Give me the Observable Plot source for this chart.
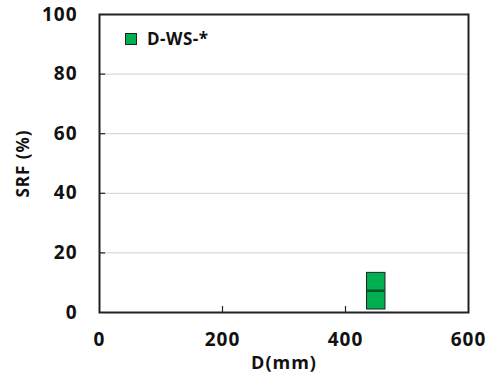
<!DOCTYPE html>
<html>
<head>
<meta charset="utf-8">
<script src="https://cdn.jsdelivr.net/npm/d3@7"></script>
<script src="https://cdn.jsdelivr.net/npm/@observablehq/plot@0.6"></script>
<style>
  html, body { margin: 0; padding: 0; background: #fff; }
  #wrap { position: relative; width: 491px; height: 374px; font-family: "Open Sans", sans-serif; }
  #legend { position: absolute; left: 125px; top: 27px; display: flex; align-items: center; font-weight: bold; font-size: 17px; color: #111; letter-spacing: 0.5px; }
  #legend .sw { width: 10px; height: 10px; background: #00B050; border: 1px solid #222; margin-right: 10px; }
</style>
</head>
<body>
<div id="wrap"><div id="legend"><span class="sw"></span><span id="legtext"></span></div></div>
<script>
// Data
const seriesName = "D-WS-*";
const diameters = [450];          // D (mm), box centre
const boxHalfWidth = [15];        // half width of box (mm)
const q1 = [1.0];
const median = [7.3];
const q3 = [13.3];
const xTicks = [0, 200, 400, 600];
const yTicks = [0, 20, 40, 60, 80, 100];

const data = diameters.map((d, i) => ({
  x1: d - boxHalfWidth[i], x2: d + boxHalfWidth[i], q1: q1[i], med: median[i], q3: q3[i]
}));

document.getElementById("legtext").textContent = seriesName;

const innerX = xTicks.filter(v => v > 0 && v < 600);
const innerY = yTicks.filter(v => v > 0 && v < 100);

const chart = Plot.plot({
  width: 491,
  height: 374,
  marginLeft: 99,
  marginTop: 14,
  marginRight: 23,
  marginBottom: 62,
  style: { fontFamily: "Open Sans, sans-serif", fontWeight: "bold", fontSize: "19px", color: "#111", background: "transparent", letterSpacing: "1px" },
  x: { domain: [0, 600], ticks: xTicks },
  y: { domain: [0, 100], ticks: yTicks },
  marks: [
    Plot.gridY(innerY, { stroke: "#d0d0d0", strokeOpacity: 1, strokeWidth: 1 }),
    Plot.axisX({ ticks: xTicks, tickSize: 0, tickPadding: 20, label: null, fontSize: 19, fontWeight: "bold" }),
    Plot.axisY({ ticks: yTicks, tickSize: 0, tickPadding: 22, label: null, fontSize: 19, fontWeight: "bold" }),
    Plot.ruleX(innerX, { x: d => d, y1: 0, y2: 2, stroke: "#222", strokeWidth: 1.2 }),
    Plot.ruleY(innerY, { y: d => d, x1: 0, x2: 10, stroke: "#222", strokeWidth: 1.2 }),
    Plot.frame({ stroke: "#222", strokeWidth: 2 }),
    Plot.rect(data, { x1: "x1", x2: "x2", y1: "q1", y2: "q3", fill: "#00B050", stroke: "#222", strokeWidth: 1 }),
    Plot.ruleY(data, { x1: "x1", x2: "x2", y: "med", stroke: "#005a22", strokeWidth: 2.5 }),
    Plot.text(["D(mm)"], { frameAnchor: "bottom", dy: 56, text: d => d, fontSize: 18, fontWeight: "bold" }),
    Plot.text(["SRF (%)"], { frameAnchor: "left", textAnchor: "middle", dx: -76, rotate: -90, text: d => d, fontSize: 17, fontWeight: "bold" })
  ]
});
document.getElementById("wrap").prepend(chart);
</script>
</body>
</html>
